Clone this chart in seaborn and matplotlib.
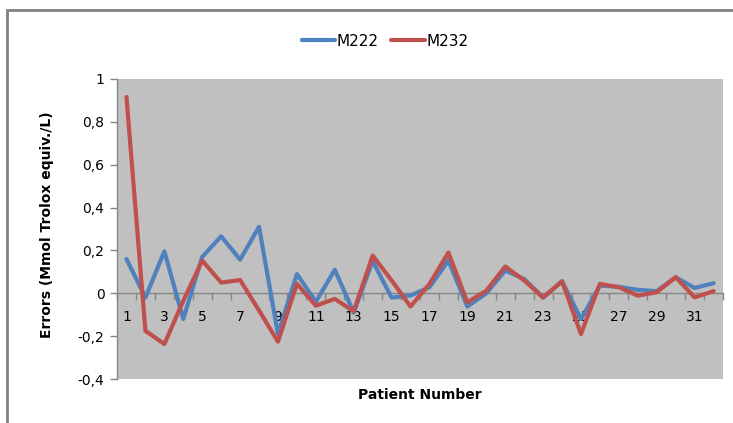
import numpy as np
import pandas as pd
import seaborn as sns
import matplotlib
matplotlib.use("Agg")
import matplotlib.pyplot as plt
from matplotlib.patches import Rectangle
from matplotlib.ticker import FixedLocator, FuncFormatter

patients = list(range(1, 33))
m222 = [0.16, -0.02, 0.196, -0.12, 0.17, 0.266, 0.157, 0.31, -0.19, 0.09,
        -0.04, 0.11, -0.09, 0.15, -0.02, -0.01, 0.028, 0.153, -0.062, 0.0,
        0.106, 0.067, -0.02, 0.056, -0.12, 0.036, 0.03, 0.016, 0.01, 0.075,
        0.025, 0.047]
m232 = [0.916, -0.175, -0.237, -0.035, 0.153, 0.05, 0.062, -0.08, -0.226, 0.044,
        -0.058, -0.026, -0.084, 0.176, 0.06, -0.062, 0.044, 0.19, -0.042, 0.012,
        0.125, 0.06, -0.02, 0.056, -0.19, 0.044, 0.028, -0.011, 0.005, 0.075,
        -0.019, 0.01]
series_names = ["M222", "M232"]
colors = ["#4F81BD", "#C0504D"]
y_ticks = [-0.4, -0.2, 0, 0.2, 0.4, 0.6, 0.8, 1]

df = pd.DataFrame({
    "Patient": patients * 2,
    "Error": m222 + m232,
    "Series": [series_names[0]] * len(patients) + [series_names[1]] * len(patients),
})

sns.set_theme(style="white")
plt.rcParams["font.family"] = ["DejaVu Sans"]
plt.rcParams["axes.unicode_minus"] = False
plt.rcParams["text.color"] = "black"

fig = plt.figure(figsize=(7.33, 4.23), dpi=100)
ax = fig.add_axes([117/733, 1-379/423, (723-117)/733, (379-79)/423])
ax.set_facecolor("#C0C0C0")

sns.lineplot(data=df, x="Patient", y="Error", hue="Series", palette=colors,
             linewidth=3.0, ax=ax, legend=False, zorder=3)

ax.set_xlim(0.5, 32.5)
ax.set_ylim(-0.4, 1.0)

for s in ["top", "right"]:
    ax.spines[s].set_visible(False)
ax.spines["left"].set_color("#868686")
ax.spines["left"].set_linewidth(1.0)
ax.spines["bottom"].set_position(("data", 0))
ax.spines["bottom"].set_color("#868686")
ax.spines["bottom"].set_linewidth(1.0)

ax.set_yticks(y_ticks)
ax.yaxis.set_major_formatter(FuncFormatter(lambda v, p: ("%g" % round(v, 1)).replace(".", ",")))
ax.tick_params(axis="y", which="major", left=True, length=5, width=1, color="#868686",
               labelsize=10, pad=4, labelcolor="black")

ax.xaxis.set_major_locator(FixedLocator(patients))
ax.set_xticklabels([str(p) if p % 2 == 1 else "" for p in patients])
ax.xaxis.set_minor_locator(FixedLocator([p + 0.5 for p in range(0, 33)]))
ax.tick_params(axis="x", which="major", bottom=True, length=0, labelsize=10, pad=12,
               labelcolor="black")
ax.tick_params(axis="x", which="minor", bottom=True, length=5, width=1, color="#868686",
               direction="out")

ax.set_xlabel("")
ax.set_ylabel("")
fig.text(420/733, 1-395/423, "Patient Number", ha="center", va="center",
         fontsize=10, fontweight="bold", color="black")
fig.text(47/733, 1-225/423, "Errors (Mmol Trolox equiv./L)", ha="center", va="center",
         rotation=90, fontsize=10, fontweight="bold", color="black")

handles = [plt.Line2D([], [], color=c, linewidth=3.0) for c in colors]
leg = fig.legend(handles, series_names, loc="center", bbox_to_anchor=(385/733, 1-41/423),
                 ncol=2, frameon=False, fontsize=11, handlelength=2.2, handletextpad=0.1,
                 columnspacing=0.8)
for t in leg.get_texts():
    t.set_color("black")

fig.patches.append(Rectangle((7/733, -0.1), 1.2, 1 - 10/423 + 0.1, transform=fig.transFigure,
                             fill=False, edgecolor="#808080", linewidth=2.0))

fig.savefig("out.png", dpi=100)
